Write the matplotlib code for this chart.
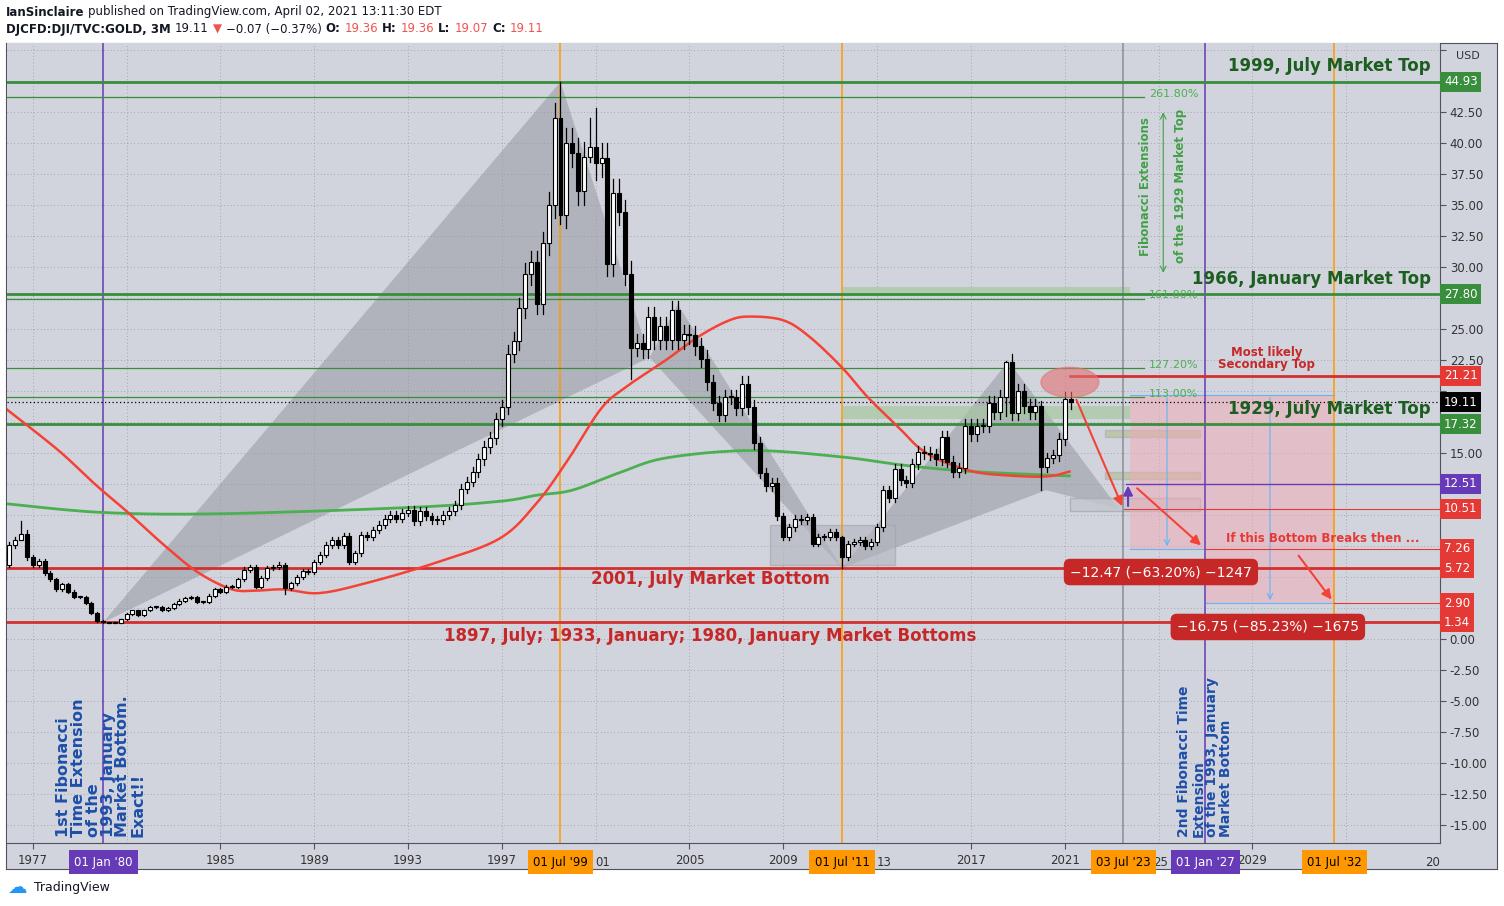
import numpy as np
import matplotlib.pyplot as plt
from matplotlib.patches import Rectangle, Polygon, Ellipse

# quarterly closes, DJI/GOLD ratio, 1976 Q1 .. 2021 Q2
closes = [
    7.6, 8.0, 8.5, 6.6,      # 1976
    6.0, 6.3, 5.3, 4.8,      # 1977
    4.0, 4.4, 3.8, 3.4,      # 1978
    3.4, 2.9, 2.1, 1.45,     # 1979
    1.35, 1.3, 1.3, 1.6,     # 1980
    2.0, 2.3, 1.9, 2.3,      # 1981
    2.6, 2.6, 2.3, 2.5,      # 1982
    2.8, 3.1, 3.3, 3.4,      # 1983
    3.0, 3.0, 3.5, 4.0,      # 1984
    3.8, 4.2, 4.2, 4.8,      # 1985
    5.6, 5.8, 4.2, 4.9,      # 1986
    5.7, 5.8, 6.0, 4.1,      # 1987
    4.5, 5.0, 5.5, 5.4,      # 1988
    6.2, 6.8, 7.6, 8.0,      # 1989
    7.6, 8.3, 6.2, 6.9,      # 1990
    8.4, 8.2, 8.8, 9.2,      # 1991
    9.7, 10.0, 9.7, 10.2,    # 1992
    10.4, 9.5, 10.3, 9.9,    # 1993
    9.6, 9.6, 10.0, 10.3,    # 1994
    10.8, 12.1, 12.7, 13.5,  # 1995
    14.5, 15.5, 16.2, 17.7,  # 1996
    18.7, 23.0, 24.0, 26.7,  # 1997
    29.4, 30.4, 27.0, 31.9,  # 1998
    35.0, 42.0, 34.2, 40.0,  # 1999
    39.2, 36.1, 38.9, 39.7,  # 2000
    38.4, 38.8, 30.2, 36.0,  # 2001
    34.4, 29.4, 23.5, 23.9,  # 2002
    23.4, 26.0, 24.1, 25.2,  # 2003
    24.1, 26.5, 24.1, 24.6,  # 2004
    24.5, 23.6, 22.6, 20.7,  # 2005
    19.0, 18.1, 19.5, 19.5,  # 2006
    18.6, 20.6, 18.7, 15.8,  # 2007
    13.4, 12.3, 12.6, 9.9,   # 2008
    8.2, 9.0, 9.7, 9.6,      # 2009
    9.8, 7.7, 8.2, 8.2,      # 2010
    8.6, 8.2, 6.6, 7.7,      # 2011
    7.8, 8.0, 7.5, 7.8,      # 2012
    9.0, 12.0, 11.4, 13.7,   # 2013
    12.8, 12.6, 14.1, 15.1,  # 2014
    15.0, 14.9, 14.5, 16.3,  # 2015
    14.3, 13.5, 13.8, 17.2,  # 2016
    16.5, 17.2, 17.2, 19.0,  # 2017
    18.3, 19.5, 22.3, 18.2,  # 2018
    20.0, 18.8, 18.3, 18.8,  # 2019
    13.9, 14.6, 14.8, 16.1,  # 2020
    19.36, 19.11,            # 2021
]
first_open = 6.0
# notable wick extremes {quarter start: (high, low)}
wick_extremes = {1976.5: (9.5, 8.0), 1987.75: (6.1, 3.6), 1999.5: (44.93, 33.5),
                 2001.0: (42.8, 37.0), 2000.75: (42.0, 38.5), 2002.5: (30.5, 21.0),
                 2011.5: (8.3, 5.72), 2020.0: (19.2, 12.0), 2018.5: (22.4, 18.0)}

# moving averages (year, value)
red_ma = [(1975.9, 18.5), (1978.1, 15.2), (1979.7, 12.4), (1981.0, 10.3), (1982.7, 7.4),
          (1984.1, 5.3), (1985.5, 4.0), (1986.5, 3.9), (1987.7, 4.0), (1989.2, 3.7),
          (1991.2, 4.5), (1994.1, 6.1), (1996.9, 8.1), (1998.5, 11.0), (1999.8, 14.4),
          (2001.2, 18.5), (2002.2, 20.2), (2004.0, 22.5), (2005.4, 24.4), (2006.7, 25.7),
          (2007.6, 26.0), (2009.0, 25.7), (2010.1, 24.4), (2011.5, 21.9), (2012.6, 19.5),
          (2014.0, 16.9), (2014.8, 15.4), (2015.7, 14.4), (2017.1, 13.5), (2018.5, 13.2),
          (2020.2, 13.1), (2021.2, 13.5)]
green_ma = [(1975.9, 10.9), (1980.0, 10.2), (1985.0, 10.1), (1993.0, 10.6), (1996.9, 11.1),
            (1998.5, 11.6), (2000.0, 12.0), (2002.0, 13.4), (2004.0, 14.6), (2007.6, 15.2),
            (2011.4, 14.7), (2014.2, 14.0), (2017.1, 13.5), (2021.2, 13.15)]

# XABCD style pattern points
pattern = [(1980.0, 1.34), (1999.5, 44.93), (2003.3, 22.7), (2004.5, 27.0),
           (2011.5, 5.72), (2018.6, 22.4), (2020.2, 12.0), (2023.3, 10.5)]

price_tags = [(44.93, 'g'), (27.80, 'g'), (21.21, 'r'), (19.11, 'k'), (17.32, 'g'),
              (12.51, 'p'), (10.51, 'r'), (7.26, 'r'), (5.72, 'r'), (2.90, 'r'), (1.34, 'r')]
year_ticks = [1977, 1985, 1989, 1993, 1997, 2005, 2009, 2017, 2021, 2029]
date_tags = [(1980.0, "01 Jan '80", 'p'), (1999.5, "01 Jul '99", 'o'), (2011.5, "01 Jul '11", 'o'),
             (2023.5, "03 Jul '23", 'o'), (2027.0, "01 Jan '27", 'p'), (2032.5, "01 Jul '32", 'o')]

GREEN = '#388e3c'
RED = '#d32f2f'
ORANGE = '#ff9800'
PURPLE = '#673ab7'
BG = '#d1d4dc'
TAGC = {'g': GREEN, 'r': '#e53935', 'k': '#000000', 'p': PURPLE, 'o': ORANGE}


def smooth(pts, k=12):
    # Catmull-Rom pass so the drawn curve looks like the chart's smooth line
    p = np.array(pts)
    p = np.vstack([p[0], p, p[-1]])
    out = []
    for i in range(1, len(p) - 2):
        p0, p1, p2, p3 = p[i - 1], p[i], p[i + 1], p[i + 2]
        for s in np.linspace(0, 1, k, endpoint=False):
            out.append(0.5 * (2 * p1 + (p2 - p0) * s + (2 * p0 - 5 * p1 + 4 * p2 - p3) * s ** 2
                              + (3 * p1 - p0 - 3 * p2 + p3) * s ** 3))
    out.append(p[-2])
    out = np.array(out)
    return out[:, 0], out[:, 1]


W, H = 1504, 906
fig = plt.figure(figsize=(W / 100, H / 100), dpi=100)
fig.patch.set_facecolor('white')
bgax = fig.add_axes([6 / W, 1 - 869 / H, 1491 / W, 826 / H], zorder=0)
bgax.set_facecolor(BG)
bgax.set_xticks([])
bgax.set_yticks([])
for s in bgax.spines.values():
    s.set_color('#50535e')
ax = fig.add_axes([7 / W, 1 - 843 / H, 1433 / W, 800 / H], zorder=1)
ax.set_facecolor(BG)
X0, X1, Y0, Y1 = 1975.9, 2037.0, -16.45, 48.06
ax.set_xlim(X0, X1)
ax.set_ylim(Y0, Y1)
for s in ['top', 'left']:
    ax.spines[s].set_visible(False)
ax.spines['right'].set_color('#50535e')
ax.spines['bottom'].set_color('#50535e')

# grid
yt = np.arange(-15, 48, 2.5)
ax.set_yticks(yt)
ax.yaxis.tick_right()
tag_vals = [v for v, _ in price_tags]
ax.set_yticklabels(['' if (min(abs(v - tv) for tv in tag_vals) < 1.2 or v > 46) else '%.2f' % v for v in yt],
                   fontsize=8.5, color='#333333')
ax.tick_params(axis='y', length=4, color='#50535e', pad=3)
ax.set_xticks(year_ticks)
ax.set_xticklabels([str(y) for y in year_ticks], fontsize=8.5, color='#333333')
ax.tick_params(axis='x', length=4, color='#50535e', pad=4)
for v in yt:
    ax.axhline(v, color='#9598a1', lw=0.6, ls=(0, (1, 3)), zorder=0.5)
for v in range(1977, 2037, 4):
    ax.axvline(v, color='#9598a1', lw=0.6, ls=(0, (1, 3)), zorder=0.5)
ax.text(1.0 + 28 / 1433, 1.0 - 16 / 800, 'USD', transform=ax.transAxes, fontsize=8, color='#333333',
        ha='center', zorder=12)

# pattern triangles
for tri in [(0, 1, 2), (2, 3, 4), (4, 5, 6), (5, 6, 7)]:
    ax.add_patch(Polygon([pattern[i] for i in tri], closed=True, facecolor='#9598a1', alpha=0.55,
                         edgecolor='none', zorder=1))

# boxes
ax.add_patch(Rectangle((2008.43, 5.97), 5.33, 3.22, facecolor='#b2b5be', alpha=0.6, edgecolor='#a0a3ab', zorder=1))
ax.add_patch(Rectangle((2011.54, 27.7), 12.25, 0.7, facecolor='#a5c8a0', alpha=0.7, edgecolor='none', zorder=1))
ax.add_patch(Rectangle((2011.54, 17.7), 12.25, 1.1, facecolor='#a5c8a0', alpha=0.7, edgecolor='none', zorder=1))
ax.add_patch(Rectangle((2022.7, 16.3), 4.07, 0.55, facecolor='#b9c49b', alpha=0.8, edgecolor='#b0b3bb', zorder=1))
ax.add_patch(Rectangle((2022.7, 12.9), 4.07, 0.6, facecolor='#b9c49b', alpha=0.8, edgecolor='#b0b3bb', zorder=1))
ax.add_patch(Rectangle((2021.22, 10.3), 5.55, 1.1, facecolor='#c4c6cc', alpha=0.8, edgecolor='#a8abb3', zorder=1))
# projected drop zones
ax.add_patch(Rectangle((2023.78, 7.26), 3.24, 12.44, facecolor='#f4a9b5', alpha=0.5, edgecolor='none', zorder=1))
ax.add_patch(Rectangle((2027.02, 2.90), 5.46, 16.8, facecolor='#f4a9b5', alpha=0.5, edgecolor='none', zorder=1))
blue = '#64b5f6'
ax.plot([2023.78, 2032.48], [19.7, 19.7], color=blue, lw=0.8, zorder=2)
ax.plot([2023.78, 2027.02], [7.26, 7.26], color=blue, lw=0.8, zorder=2)
ax.plot([2027.02, 2032.48], [2.9, 2.9], color=blue, lw=0.8, zorder=2)
ax.annotate('', xy=(2025.36, 7.26), xytext=(2025.36, 19.7),
            arrowprops=dict(arrowstyle='->', color=blue, lw=0.8), zorder=2)
ax.annotate('', xy=(2029.75, 2.9), xytext=(2029.75, 19.7),
            arrowprops=dict(arrowstyle='->', color=blue, lw=0.8), zorder=2)

# horizontal levels
for v, lw in [(44.93, 2), (27.80, 2), (17.32, 2)]:
    ax.axhline(v, color=GREEN, lw=lw, zorder=3)
for v in [43.7, 27.45, 21.85, 19.5]:
    ax.plot([X0, 2024.4], [v, v], color=GREEN, lw=0.9, zorder=3)
ax.axhline(5.72, color=RED, lw=2, zorder=3)
ax.axhline(1.34, color=RED, lw=2, zorder=3)
ax.plot([2021.22, X1], [21.21, 21.21], color=RED, lw=2, zorder=3)
ax.plot([2023.52, X1], [10.51, 10.51], color='#e53935', lw=0.8, zorder=3)
ax.plot([2027.02, X1], [7.26, 7.26], color='#e53935', lw=0.8, zorder=3)
ax.plot([2032.48, X1], [2.9, 2.9], color='#e53935', lw=0.8, zorder=3)
ax.plot([2023.6, X1], [12.51, 12.51], color=PURPLE, lw=1, zorder=3)
ax.axhline(19.11, color='black', lw=0.9, ls=(0, (1, 2)), zorder=3)

# vertical time lines
for t, c in [(1980.0, PURPLE), (1999.5, ORANGE), (2011.5, ORANGE), (2023.5, '#8a8d96'),
             (2027.0, PURPLE), (2032.5, ORANGE)]:
    ax.axvline(t, color=c, lw=1.1, zorder=2)

# moving averages
ax.plot(*smooth(green_ma), color='#4caf50', lw=2, zorder=4)
ax.plot(*smooth(red_ma), color='#f44336', lw=1.8, zorder=4)

# candles
n = len(closes)
t = 1976.0 + 0.25 * np.arange(n)
opens = [first_open] + closes[:-1]
for ti, o, c in zip(t, opens, closes):
    hi, lo = max(o, c) * 1.03, min(o, c) * 0.97
    if ti in wick_extremes:
        hi, lo = wick_extremes[ti]
    ax.plot([ti, ti], [lo, hi], color='black', lw=0.9, zorder=5)
    up = c >= o
    ax.bar(ti, max(abs(c - o), 0.08), bottom=min(o, c), width=0.17,
           color='white' if up else 'black', edgecolor='black', lw=0.8, zorder=6)

# ellipse
ax.add_patch(Ellipse((2021.22, 20.7), 2.47, 2.42, facecolor='#e57373', alpha=0.6,
                     edgecolor='#e57373', zorder=7))

# arrows
ar = dict(arrowstyle='-|>', color='#f44336', lw=1.5, mutation_scale=14)
ax.annotate('', xy=(2023.5, 10.5), xytext=(2021.45, 19.5), arrowprops=ar, zorder=8)
ax.annotate('', xy=(2026.9, 7.4), xytext=(2024.0, 12.3), arrowprops=ar, zorder=8)
ax.annotate('', xy=(2032.45, 3.0), xytext=(2030.9, 6.9), arrowprops=ar, zorder=8)
ax.annotate('', xy=(2023.7, 12.6), xytext=(2023.7, 10.5),
            arrowprops=dict(arrowstyle='-|>', color=PURPLE, lw=1.5, mutation_scale=14), zorder=8)

# texts
big = dict(fontsize=12, fontweight='bold', family='DejaVu Sans', zorder=9)
ax.text(2036.6, 45.5, '1999, July Market Top', color='#1b5e20', ha='right', va='bottom', **big)
ax.text(2036.6, 28.3, '1966, January Market Top', color='#1b5e20', ha='right', va='bottom', **big)
ax.text(2036.6, 17.8, '1929, July Market Top', color='#1b5e20', ha='right', va='bottom', **big)
ax.text(2005.9, 4.8, '2001, July Market Bottom', color='#c62828', ha='center', va='center', **big)
ax.text(2005.9, 0.25, '1897, July; 1933, January; 1980, January Market Bottoms', color='#c62828',
        ha='center', va='center', **big)
ax.text(2029.6, 22.6, 'Most likely\nSecondary Top', color='#c62828', fontsize=8.5, fontweight='bold',
        ha='center', va='center', linespacing=0.85, zorder=9)
ax.text(2032.0, 8.1, 'If this Bottom Breaks then ...', color='#e53935', fontsize=8.5, fontweight='bold',
        ha='center', va='center', zorder=9)
for v, lab in [(43.7, '261.80%'), (27.45, '161.80%'), (21.85, '127.20%'), (19.5, '113.00%')]:
    ax.text(2024.6, v + 0.25, lab, color='#4caf50', fontsize=8, va='center', zorder=9)
ax.text(2024.45, 36.5, 'Fibonacci Extensions', color='#43a047', fontsize=8.5, fontweight='bold',
        rotation=90, ha='center', va='center', zorder=9)
ax.text(2025.95, 36.5, 'of the 1929 Market Top', color='#43a047', fontsize=8.5, fontweight='bold',
        rotation=90, ha='center', va='center', zorder=9)
ax.annotate('', xy=(2025.2, 42.7), xytext=(2025.2, 29.3),
            arrowprops=dict(arrowstyle='<->', color='#43a047', lw=0.8), zorder=9)
blue_t = '#1e4fa8'
ax.text(1978.0, -16.0, '1st Fibonacci\nTime Extension\nof the\n1993, January\nMarket Bottom.\nExact!!',
        color=blue_t, fontsize=11.5, fontweight='bold', rotation=90, ha='left', va='bottom',
        linespacing=0.98, zorder=9)
ax.text(2025.8, -16.0, '2nd Fibonacci Time\nExtension\nof the 1993, January\nMarket Bottom',
        color=blue_t, fontsize=10, fontweight='bold', rotation=90, ha='left', va='bottom',
        linespacing=1.0, zorder=9)

# measure labels
ax.text(2025.1, 5.4, '\u221212.47 (\u221263.20%) \u22121247', color='white', fontsize=10, ha='center', va='center',
        bbox=dict(boxstyle='round,pad=0.45', fc='#c62828', ec='none'), zorder=10)
ax.text(2029.66, 0.97, '\u221216.75 (\u221285.23%) \u22121675', color='white', fontsize=10, ha='center', va='center',
        bbox=dict(boxstyle='round,pad=0.45', fc='#c62828', ec='none'), zorder=10)

# right price tags
for v, c in price_tags:
    ax.text(1.0 + 4 / 1433, v, '%.2f' % v, transform=ax.get_yaxis_transform(), color='white',
            fontsize=8.5, ha='left', va='center', zorder=11, clip_on=False,
            bbox=dict(boxstyle='square,pad=0.3', fc=TAGC[c], ec='none'))

# bottom date tags and odd tick fragments
for tt, lab, c in date_tags:
    ax.text(tt, -0.016, lab, transform=ax.get_xaxis_transform(), color='white' if c == 'p' else 'black',
            fontsize=8.5, ha='center', va='top', zorder=11, clip_on=False,
            bbox=dict(boxstyle='square,pad=0.45', fc=TAGC[c], ec='none'))
for tt, lab in [(2001.3, '01'), (2013.3, '13'), (2025.1, '25'), (2036.7, '20')]:
    ax.text(tt, -0.016, lab, transform=ax.get_xaxis_transform(), color='#333333',
            fontsize=8.5, ha='center', va='top', zorder=10, clip_on=False)

# header / footer, placed piece by piece
renderer = fig.canvas.get_renderer()


def row(y, pieces, x=6):
    for txt, bold, col in pieces:
        tobj = fig.text(x / W, 1 - y / H, txt, fontsize=8.5, fontweight='bold' if bold else 'normal',
                        va='center', color=col)
        x += tobj.get_window_extent(renderer).width + 4


dark = '#131722'
row(12, [('IanSinclaire', True, dark), ('published on TradingView.com, April 02, 2021 13:11:30 EDT', False, dark)])
row(29, [('DJCFD:DJI/TVC:GOLD, 3M', True, dark), ('19.11', False, dark), ('\u25bc', False, '#ef5350'),
         ('\u22120.07 (\u22120.37%)', False, dark), ('O:', True, dark), ('19.36', False, '#ef5350'),
         ('H:', True, dark), ('19.36', False, '#ef5350'), ('L:', True, dark), ('19.07', False, '#ef5350'),
         ('C:', True, dark), ('19.11', False, '#ef5350')])
fig.text(34 / W, 1 - 887 / H, 'TradingView', fontsize=9, va='center', color=dark)
fig.text(8 / W, 1 - 887 / H, '\u2601', fontsize=14, va='center', color='#2196f3')

fig.savefig('out.png', dpi=100)
